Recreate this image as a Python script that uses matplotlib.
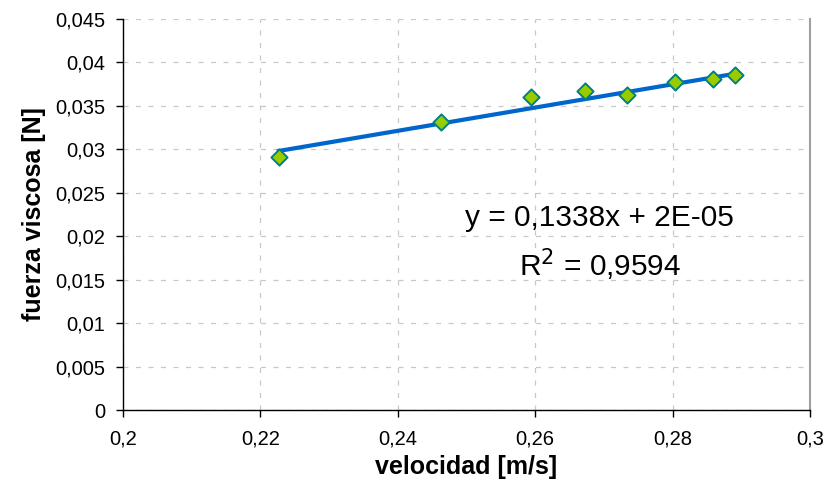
import matplotlib
matplotlib.use("Agg")
import matplotlib.pyplot as plt
from matplotlib.ticker import FuncFormatter, MultipleLocator
import numpy as np

velocidad = [0.2227, 0.2463, 0.2594, 0.2672, 0.2734, 0.2803, 0.2859, 0.2891]
fuerza = [0.0291, 0.0331, 0.0360, 0.0367, 0.0362, 0.0377, 0.0381, 0.0386]
slope = 0.1338
intercept = 2e-05
eq_text = "y = 0,1338x + 2E-05"
r2_text = "R$^2$ = 0,9594"

plt.rcParams['font.family'] = ['Liberation Sans', 'DejaVu Sans']

fig = plt.figure(figsize=(8.24, 4.9), dpi=100)
ax = fig.add_axes([123/824, 80/490, (810-123)/824, (410-19)/490])

ax.set_xlim(0.2, 0.3)
ax.set_ylim(0, 0.045)
ax.xaxis.set_major_locator(MultipleLocator(0.02))
ax.yaxis.set_major_locator(MultipleLocator(0.005))

def comma(v, pos):
    s = f"{v:.3f}".rstrip('0').rstrip('.')
    if s == '':
        s = '0'
    return s.replace('.', ',')

ax.xaxis.set_major_formatter(FuncFormatter(comma))
ax.yaxis.set_major_formatter(FuncFormatter(comma))

ax.grid(True, color='#c8c8c8', linestyle=(0, (4, 6)), linewidth=0.9)
ax.set_axisbelow(True)

xs = np.array([min(velocidad), max(velocidad)])
ax.plot(xs, slope * xs + intercept, color='#0066CC', linewidth=3, zorder=2)
ax.scatter(velocidad, fuerza, marker='D', s=68, facecolor='#99CC00',
           edgecolor='#008080', linewidth=1.4, zorder=3)

ax.text(0.2694, 0.0221, eq_text, fontsize=21.5, ha='center', va='center')
ax.text(0.2694, 0.0167, r2_text, fontsize=21.5, ha='center', va='center')

for s in ['left', 'bottom']:
    ax.spines[s].set_color('black')
    ax.spines[s].set_linewidth(1.0)
ax.spines['right'].set_color('#a0a0a0')
ax.spines['right'].set_linewidth(1.5)
ax.spines['top'].set_visible(False)

ax.tick_params(axis='both', labelsize=14.5, direction='out', length=5, width=1)
ax.tick_params(axis='x', pad=9)
ax.tick_params(axis='y', pad=8)

ax.set_xlabel("velocidad [m/s]", fontsize=18, fontweight='bold', labelpad=5)
ax.set_ylabel("fuerza viscosa [N]", fontsize=18, fontweight='bold', labelpad=6)

fig.savefig("out.png", dpi=100)
